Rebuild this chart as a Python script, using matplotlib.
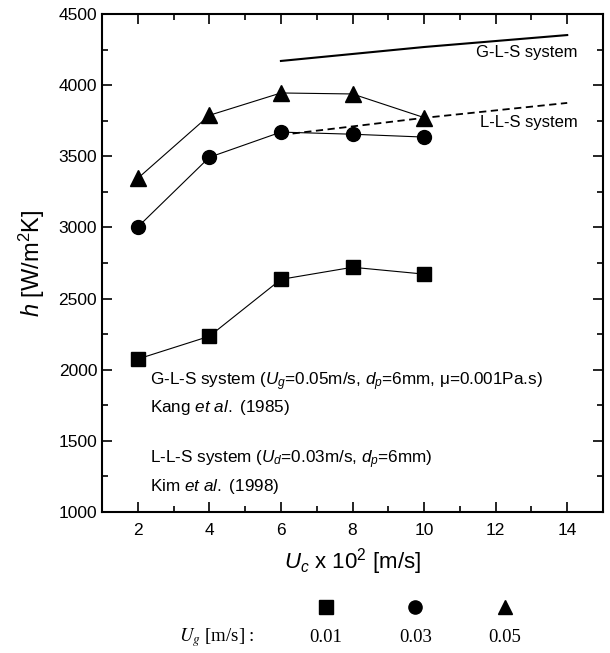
import numpy as np
import matplotlib
matplotlib.use("Agg")
import matplotlib.pyplot as plt
from matplotlib.ticker import MultipleLocator

plt.rcParams['font.family'] = ['Liberation Sans', 'DejaVu Sans']
plt.rcParams['mathtext.fontset'] = 'custom'
plt.rcParams['mathtext.rm'] = 'Liberation Sans'
plt.rcParams['mathtext.it'] = 'Liberation Sans:italic'

# ==========================
# Data
# ==========================
uc = [2, 4, 6, 8, 10]
h_001 = [2075, 2235, 2635, 2720, 2672]   # Ug = 0.01
h_003 = [3003, 3493, 3670, 3655, 3635]   # Ug = 0.03
h_005 = [3345, 3788, 3945, 3938, 3772]   # Ug = 0.05

gls_x = [6, 10, 14]
gls_h = [4170, 4268, 4352]
lls_x = [6, 10, 14]
lls_h = [3650, 3770, 3875]

ug_labels = ['0.01', '0.03', '0.05']
ug_markers = ['s', 'o', '^']

# ==========================
# Figure
# ==========================
fig = plt.figure(figsize=(6.10, 6.53), dpi=100)
ax = fig.add_axes([102 / 610, 1 - 512 / 653, (603 - 102) / 610, (512 - 14) / 653])

ax.plot(uc, h_001, marker='s', markersize=9.5, color='black', lw=0.8)
ax.plot(uc, h_003, marker='o', markersize=10, color='black', lw=0.8)
ax.plot(uc, h_005, marker='^', markersize=11, color='black', lw=0.8)

ax.plot(gls_x, gls_h, color='black', lw=1.5)
ax.plot(lls_x, lls_h, color='black', lw=1.3, ls=(0, (4, 2.5)))

ax.text(14.3, 4226, 'G-L-S system', ha='right', va='center', fontsize=12)
ax.text(14.3, 3734, 'L-L-S system', ha='right', va='center', fontsize=12)

ax.text(2.35, 1914, 'G-L-S system ($U_g$=0.05m/s, $d_p$=6mm, \u03bc=0.001Pa.s)',
        ha='left', va='center', fontsize=12.3)
ax.text(2.35, 1731, 'Kang $et\\ al.\\ $(1985)', ha='left', va='center', fontsize=12.3)
ax.text(2.35, 1365, 'L-L-S system ($U_d$=0.03m/s, $d_p$=6mm)',
        ha='left', va='center', fontsize=12.3)
ax.text(2.35, 1176, 'Kim $et\\ al.\\ $(1998)', ha='left', va='center', fontsize=12.3)

ax.set_xlim(1, 15)
ax.set_ylim(1000, 4500)
ax.set_xticks([2, 4, 6, 8, 10, 12, 14])
ax.xaxis.set_minor_locator(MultipleLocator(1))
ax.yaxis.set_major_locator(MultipleLocator(500))
ax.yaxis.set_minor_locator(MultipleLocator(250))
ax.tick_params(which='both', direction='in', top=True, right=True, labelsize=12.5, width=1.2)
ax.tick_params(which='major', length=7)
ax.tick_params(which='minor', length=4)
ax.tick_params(axis='x', pad=8)
for s in ax.spines.values():
    s.set_linewidth(1.5)

ax.set_xlabel('$U_c$ x 10$^2$ [m/s]', fontsize=16, labelpad=6)
ax.set_ylabel('$h$ [W/m$^2$K]', fontsize=17, labelpad=8)

# ==========================
# Legend below the axes
# ==========================
lax = fig.add_axes([180 / 610, 0, 350 / 610, 60 / 653])
lax.set_xlim(-0.631, 3.28)
lax.set_ylim(0, 1)
lax.axis('off')
for i, (m, lab) in enumerate(zip(ug_markers, ug_labels)):
    lax.plot(i + 1, 0.77, marker=m, color='black', markersize=9.5 if m != '^' else 10.5, ls='none')
    lax.text(i + 1, 0.25, lab, ha='center', va='center', fontsize=13.5,
             family='Liberation Serif')
lax.text(-0.22, 0.25, '$U_g$ [m/s] :', ha='center', va='center', fontsize=13.5,
         family='Liberation Serif', math_fontfamily='stix')

fig.savefig('out.png', dpi=100)
